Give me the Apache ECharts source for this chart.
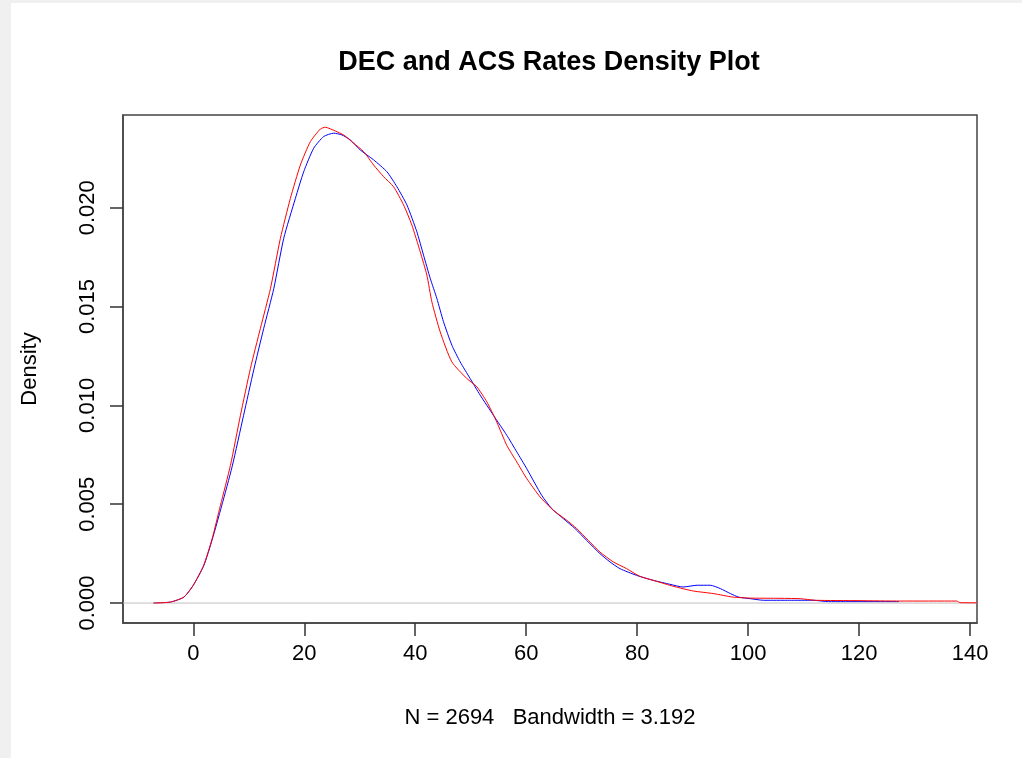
<!DOCTYPE html>
<html>
<head>
<meta charset="utf-8">
<script src="https://cdn.jsdelivr.net/npm/echarts@6/dist/echarts.min.js"></script>
<style>
  html, body { margin: 0; padding: 0; background: #f0f0f0; width: 1022px; height: 758px; overflow: hidden; }
  #c { position: absolute; left: 11px; top: 3px; width: 1011px; height: 755px; background: #ffffff; }
</style>
</head>
<body>
<div id="c"></div>
<script>
// Blue density (first plotted)
const decX = [-7.2, -4.1, -1.7, 0, 1.9, 3.4, 5.1, 7.0, 9.07, 10.9, 12.7, 14.5, 16.3, 18.4, 19.9, 21.7, 23.5, 25.3, 26.8, 28.3, 30.1, 32.5, 34.9, 36.7, 38.5, 40.3, 41.5, 42.7, 43.9, 45.1, 46.6, 48.1, 49.9, 51.7, 54.1, 56.5, 58.3, 60.1, 62.8, 64.6, 66.7, 68.8, 70.9, 73.3, 75.1, 76.9, 79.9, 82.9, 85.9, 88.3, 90.8, 93.2, 95.0, 96.8, 98.3, 100.4, 102.8, 107.5, 111.7, 114.5, 127.2];
const decY = [0, 0.00005, 0.0003, 0.0009, 0.0019, 0.0032, 0.0049, 0.0069, 0.0095, 0.0118, 0.0139, 0.0159, 0.01845, 0.02047, 0.02182, 0.02301, 0.0236, 0.02377, 0.02368, 0.02343, 0.02292, 0.02242, 0.02182, 0.02106, 0.02014, 0.01878, 0.0176, 0.01643, 0.01541, 0.01423, 0.01305, 0.0122, 0.01136, 0.01052, 0.0095, 0.00849, 0.00765, 0.0068, 0.00545, 0.00478, 0.00427, 0.00377, 0.00317, 0.0025, 0.00208, 0.00174, 0.0014, 0.00115, 0.00095, 0.00081, 0.0009, 0.0009, 0.00073, 0.00048, 0.0003, 0.00022, 0.00014, 0.00014, 0.00014, 0.00007, 0.00007];
// Red density (added with lines)
const acsX = [-7.15, -4.1, -1.7, 0, 1.86, 3.4, 4.9, 6.7, 8.5, 10.3, 12.1, 13.9, 15.7, 17.5, 19.3, 21.1, 22.9, 23.8, 25.6, 27.1, 28.9, 30.7, 32.5, 34.3, 36.1, 37.9, 39.4, 40.9, 42.1, 43.0, 44.5, 46.6, 49.3, 51.1, 52.9, 54.7, 56.5, 58.3, 60.1, 62.5, 64.9, 67.3, 69.1, 71.2, 73.3, 75.7, 78.1, 80.5, 83.5, 86.5, 90.1, 93.7, 97.3, 100.4, 105.0, 109.4, 112.1, 120.0, 127.4, 137.6, 138.2, 141.3];
const acsY = [0, 0.00005, 0.0003, 0.0009, 0.0019, 0.00326, 0.00495, 0.00697, 0.0095, 0.01187, 0.0139, 0.0159, 0.01845, 0.02047, 0.02216, 0.02334, 0.02398, 0.02407, 0.02388, 0.02368, 0.02326, 0.02284, 0.02216, 0.02157, 0.02106, 0.02014, 0.01912, 0.01777, 0.01659, 0.01524, 0.01372, 0.0122, 0.01136, 0.01094, 0.01018, 0.00916, 0.00798, 0.00714, 0.0063, 0.00537, 0.00469, 0.00419, 0.00377, 0.00317, 0.00258, 0.00208, 0.00174, 0.00135, 0.0011, 0.00085, 0.00061, 0.00048, 0.0003, 0.00025, 0.00024, 0.00022, 0.00014, 0.00012, 0.0001, 0.0001, 0.00002, 0.00001];
const zeroX = [-12.67, 141.26];
const zeroY = [0, 0];
const xTicks = [0, 20, 40, 60, 80, 100, 120, 140];
const yTicks = [0, 0.005, 0.010, 0.015, 0.020];
const titleText = 'DEC and ACS Rates Density Plot';
const xTitle = 'N = 2694   Bandwidth = 3.192';
const yTitle = 'Density';

const FONT = '"Liberation Sans", Arial, sans-serif';
const zip = (xs, ys) => xs.map((x, i) => [x, ys[i]]);

const chart = echarts.init(document.getElementById('c'), null, { renderer: 'canvas' });
chart.setOption({
  animation: false,
  title: {
    text: titleText,
    left: 533, top: 41, textAlign: 'center',
    textStyle: { fontFamily: FONT, fontWeight: 'bold', fontSize: 27, color: '#000' }
  },
  graphic: [
    { type: 'text', x: 539, y: 715, style: { text: xTitle, font: '22px ' + FONT, fill: '#000', textAlign: 'center', textVerticalAlign: 'middle' } },
    { type: 'text', x: 19, y: 366, rotation: Math.PI / 2, style: { text: yTitle, font: '22px ' + FONT, fill: '#000', textAlign: 'center', textVerticalAlign: 'middle' } }
  ],
  grid: { left: 112, top: 112, right: 45, bottom: 135, show: true, borderColor: '#444', borderWidth: 1.5 },
  xAxis: {
    type: 'value', min: -12.67, max: 141.26,
    axisLine: { show: true, onZero: false, lineStyle: { color: '#444', width: 1.5 } },
    axisTick: { show: true, inside: false, customValues: xTicks, length: 13, lineStyle: { color: '#333', width: 1.5 } },
    axisLabel: { customValues: xTicks, margin: 20, fontFamily: FONT, fontSize: 22, color: '#000' },
    splitLine: { show: false }
  },
  yAxis: {
    type: 'value', min: -0.00101, max: 0.02469,
    axisLine: { show: true, onZero: false, lineStyle: { color: '#444', width: 1.5 } },
    axisTick: { show: true, inside: false, customValues: yTicks, length: 13, lineStyle: { color: '#333', width: 1.5 } },
    axisLabel: { customValues: yTicks, rotate: 90, margin: 24, fontFamily: FONT, fontSize: 22, color: '#000', formatter: v => v.toFixed(3) },
    splitLine: { show: false }
  },
  series: [
    {
      name: 'DEC', type: 'line', data: zip(decX, decY), showSymbol: false, smooth: 0.2,
      lineStyle: { color: '#0000ff', width: 1 }, z: 2
    },
    {
      name: 'zero', type: 'line', data: zip(zeroX, zeroY), showSymbol: false, silent: true,
      lineStyle: { color: '#bebebe', width: 1 }, z: 2
    },
    {
      name: 'ACS', type: 'line', data: zip(acsX, acsY), showSymbol: false, smooth: 0.2,
      lineStyle: { color: '#ff0000', width: 1 }, z: 3
    }
  ]
});
</script>
</body>
</html>
